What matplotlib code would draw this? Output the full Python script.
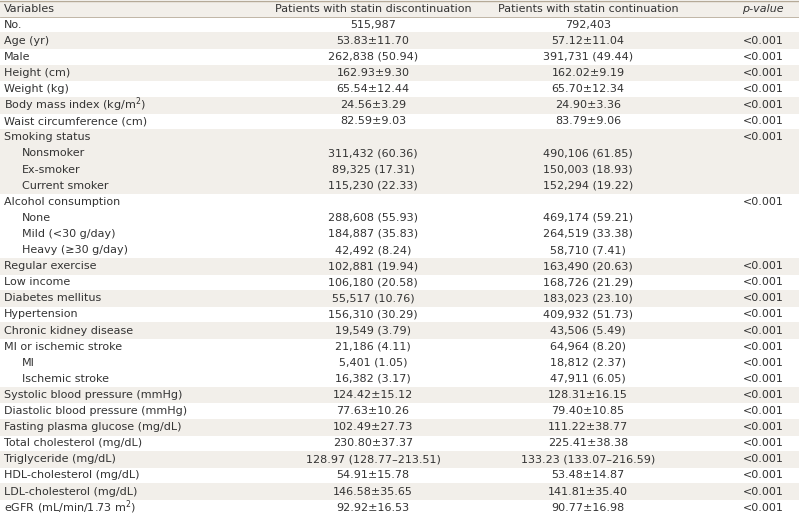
import matplotlib.pyplot as plt
from matplotlib.patches import Rectangle

header = ['Variables', 'Patients with statin discontinuation', 'Patients with statin continuation', 'p-value']

variables = ['No.', 'Age (yr)', 'Male', 'Height (cm)', 'Weight (kg)', 'Body mass index (kg/m$^2$)',
             'Waist circumference (cm)', 'Smoking status', 'Nonsmoker', 'Ex-smoker', 'Current smoker',
             'Alcohol consumption', 'None', 'Mild (<30 g/day)', 'Heavy (≥30 g/day)', 'Regular exercise',
             'Low income', 'Diabetes mellitus', 'Hypertension', 'Chronic kidney disease', 'MI or ischemic stroke',
             'MI', 'Ischemic stroke', 'Systolic blood pressure (mmHg)', 'Diastolic blood pressure (mmHg)',
             'Fasting plasma glucose (mg/dL)', 'Total cholesterol (mg/dL)', 'Triglyceride (mg/dL)',
             'HDL-cholesterol (mg/dL)', 'LDL-cholesterol (mg/dL)', 'eGFR (mL/min/1.73 m$^2$)']
indented = [False] * 8 + [True] * 3 + [False] + [True] * 3 + [False] * 6 + [True] * 2 + [False] * 8

discontinuation = ['515,987', '53.83±11.70', '262,838 (50.94)', '162.93±9.30', '65.54±12.44', '24.56±3.29',
                   '82.59±9.03', '', '311,432 (60.36)', '89,325 (17.31)', '115,230 (22.33)', '',
                   '288,608 (55.93)', '184,887 (35.83)', '42,492 (8.24)', '102,881 (19.94)', '106,180 (20.58)',
                   '55,517 (10.76)', '156,310 (30.29)', '19,549 (3.79)', '21,186 (4.11)', '5,401 (1.05)',
                   '16,382 (3.17)', '124.42±15.12', '77.63±10.26', '102.49±27.73', '230.80±37.37',
                   '128.97 (128.77–213.51)', '54.91±15.78', '146.58±35.65', '92.92±16.53']
continuation = ['792,403', '57.12±11.04', '391,731 (49.44)', '162.02±9.19', '65.70±12.34', '24.90±3.36',
                '83.79±9.06', '', '490,106 (61.85)', '150,003 (18.93)', '152,294 (19.22)', '',
                '469,174 (59.21)', '264,519 (33.38)', '58,710 (7.41)', '163,490 (20.63)', '168,726 (21.29)',
                '183,023 (23.10)', '409,932 (51.73)', '43,506 (5.49)', '64,964 (8.20)', '18,812 (2.37)',
                '47,911 (6.05)', '128.31±16.15', '79.40±10.85', '111.22±38.77', '225.41±38.38',
                '133.23 (133.07–216.59)', '53.48±14.87', '141.81±35.40', '90.77±16.98']
p_values = ['', '<0.001', '<0.001', '<0.001', '<0.001', '<0.001', '<0.001', '<0.001', '', '', '',
            '<0.001', '', '', '', '<0.001', '<0.001', '<0.001', '<0.001', '<0.001', '<0.001', '<0.001',
            '<0.001', '<0.001', '<0.001', '<0.001', '<0.001', '<0.001', '<0.001', '<0.001', '<0.001']
# shading group per row (True = beige)
shaded = [False, True, False, True, False, True, False] + [True] * 4 + [False] * 4 + \
         [True, False, True, False, True] + [False] * 3 + [True, False, True, False, True, False, True, False]

W, H = 799, 516
fig = plt.figure(figsize=(W / 100, H / 100), dpi=100)
ax = fig.add_axes([0, 0, 1, 1])
ax.set_xlim(0, W)
ax.set_ylim(H, 0)
ax.axis('off')

beige = '#f2efea'
rh = 16.1
top = 0.5
fs = 8
tc = '#333333'
cols = [4, 373, 588, 763]

ax.add_patch(Rectangle((0, top), W, rh, color=beige, lw=0))
ax.plot([0, W], [top + 0.5, top + 0.5], color='#b5aa98', lw=1)
ax.plot([0, W], [top + rh, top + rh], color='#b5aa98', lw=0.6)
for i, h in enumerate(header):
    y = top + rh / 2
    if i == 0:
        ax.text(cols[0], y, h, ha='left', va='center', fontsize=fs, color=tc)
    elif i == 3:
        ax.text(cols[3], y, h, ha='center', va='center', fontsize=fs, color=tc, style='italic')
    else:
        ax.text(cols[i], y, h, ha='center', va='center', fontsize=fs, color=tc)

for r in range(len(variables)):
    y0 = top + rh * (r + 1)
    if shaded[r]:
        ax.add_patch(Rectangle((0, y0 - 0.3), W, rh + 0.6, color=beige, lw=0))
    y = y0 + rh / 2
    ax.text(22 if indented[r] else cols[0], y, variables[r], ha='left', va='center', fontsize=fs, color=tc)
    ax.text(cols[1], y, discontinuation[r], ha='center', va='center', fontsize=fs, color=tc)
    ax.text(cols[2], y, continuation[r], ha='center', va='center', fontsize=fs, color=tc)
    ax.text(cols[3], y, p_values[r], ha='center', va='center', fontsize=fs, color=tc)

fig.savefig('out.png', dpi=100)
